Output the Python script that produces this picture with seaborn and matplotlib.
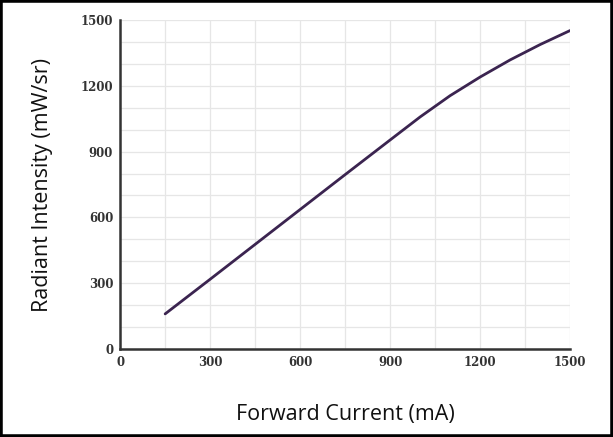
import numpy as np
import pandas as pd
import matplotlib
matplotlib.use("Agg")
import matplotlib.pyplot as plt
from matplotlib.ticker import MultipleLocator
from matplotlib.patches import Rectangle
import seaborn as sns

# Values
current_ma = [150, 300, 450, 600, 750, 900, 1000, 1100, 1200, 1300, 1400, 1500]
intensity_mw_sr = [160, 318, 477, 636, 795, 953, 1058, 1155, 1240, 1318, 1388, 1452]

x_ticks = [0, 300, 600, 900, 1200, 1500]
y_ticks = [0, 300, 600, 900, 1200, 1500]

df = pd.DataFrame({"Forward Current (mA)": current_ma,
                   "Radiant Intensity (mW/sr)": intensity_mw_sr})

sns.set_style("white")
plt.rcParams["font.family"] = ["Open Sans", "DejaVu Sans"]

fig = plt.figure(figsize=(6.13, 4.37), dpi=100)
ax = fig.add_axes([0.196, 0.2014, 0.734, 0.7528])

sns.lineplot(data=df, x="Forward Current (mA)", y="Radiant Intensity (mW/sr)",
             ax=ax, color="#3b2450", linewidth=2.0)

ax.set_xlim(0, 1500)
ax.set_ylim(0, 1500)
ax.set_xticks(x_ticks)
ax.set_yticks(y_ticks)
ax.xaxis.set_minor_locator(MultipleLocator(150))
ax.yaxis.set_minor_locator(MultipleLocator(100))
ax.grid(True, which="both", color="#e6e6e6", linewidth=0.9)
ax.set_axisbelow(True)

for side in ["top", "right"]:
    ax.spines[side].set_visible(False)
for side in ["left", "bottom"]:
    ax.spines[side].set_color("#333333")
    ax.spines[side].set_linewidth(1.8)

ax.tick_params(axis="both", which="major", length=3, width=1, color="#333333",
               labelsize=8.5, labelcolor="#333333", pad=2)
ax.tick_params(axis="both", which="minor", length=0)
for lbl in ax.get_xticklabels() + ax.get_yticklabels():
    lbl.set_family(["DejaVu Serif", "DejaVu Sans"])
    lbl.set_fontweight("bold")

ax.set_xlabel("Forward Current (mA)", fontsize=15.5, color="#111111", labelpad=25)
ax.set_ylabel("Radiant Intensity (mW/sr)", fontsize=15.5, color="#111111", labelpad=20)

# outer frame of the picture
fig.patches.append(Rectangle((0, 0), 1, 1, transform=fig.transFigure,
                             fill=False, edgecolor="black", linewidth=4))

fig.savefig("out.png", dpi=100)
